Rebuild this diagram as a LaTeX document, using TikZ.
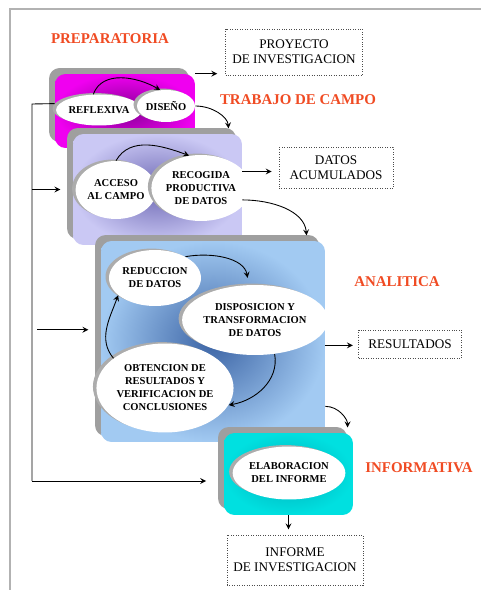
\documentclass[tikz,border=0pt]{standalone}
\usepackage{fontspec}
\setmainfont{Liberation Serif}
\usetikzlibrary{arrows,shapes.geometric,shadows}

\definecolor{rojofase}{RGB}{240,75,35}
\definecolor{magclaro}{RGB}{240,0,240}
\definecolor{magoscuro}{RGB}{135,0,150}
\definecolor{lavclaro}{RGB}{202,200,244}
\definecolor{lavoscuro}{RGB}{110,105,180}
\definecolor{celclaro}{RGB}{162,202,242}
\definecolor{celoscuro}{RGB}{60,100,165}
\definecolor{turclaro}{RGB}{0,224,224}
\definecolor{turoscuro}{RGB}{0,175,185}

\begin{document}
\begin{tikzpicture}[
  x=0.02cm, y=-0.02cm,
  >=stealth,
  fase/.style={rectangle, rounded corners=6pt,
    general shadow={fill=gray!75, shadow xshift=-3.4pt, shadow yshift=3.4pt}},
  etapa/.style={ellipse, inner sep=0pt, align=center, fill=white,
    font=\fontsize{6}{7.4}\selectfont\bfseries,
    general shadow={fill=gray!65, shadow xshift=-2pt, shadow yshift=0.8pt}},
  producto/.style={rectangle, draw=gray!60!black, densely dotted, inner sep=0pt,
    align=center, font=\fontsize{7.5}{8.5}\selectfont},
  titulo/.style={text=rojofase, font=\fontsize{8.5}{10}\selectfont\bfseries},
  flecha/.style={->, line width=0.5pt}
]
\useasboundingbox (0,0) rectangle (481,590);
\draw[gray!60, line width=1.1pt] (10,590) -- (10,9) -- (481,9);

% fases
\node[fase, inner color=magoscuro, outer color=magclaro, minimum width=2.8cm, minimum height=1.48cm] (fprep) at (125,111) {};
\node[fase, inner color=lavoscuro, outer color=lavclaro, minimum width=3.38cm, minimum height=2.22cm] (fcampo) at (157.5,189.5) {};
\node[fase, inner color=celoscuro, outer color=celclaro, minimum width=4.48cm, minimum height=4.02cm] (fana) at (213,341.5) {};
\node[fase, inner color=turoscuro, outer color=turclaro, minimum width=2.58cm, minimum height=1.64cm] (finf) at (288.5,474) {};

% etapas
\node[etapa, minimum width=1.32cm, minimum height=0.62cm] (reflexiva) at (99,110) {REFLEXIVA};
\node[etapa, minimum width=1.16cm, minimum height=0.64cm] (diseno) at (166,106) {DISEÑO};
\node[etapa, minimum width=1.36cm, minimum height=1.16cm] (acceso) at (116,190) {ACCESO\\AL CAMPO};
\node[etapa, minimum width=1.68cm, minimum height=1.32cm] (recogida) at (201,188) {RECOGIDA\\PRODUCTIVA\\DE DATOS};
\node[etapa, minimum width=1.56cm, minimum height=1.12cm] (reduccion) at (155,278) {REDUCCION\\DE DATOS};
\node[etapa, minimum width=2.52cm, minimum height=1.4cm] (disposicion) at (255,320) {DISPOSICION Y\\TRANSFORMACION\\DE DATOS};
\node[etapa, minimum width=2.3cm, minimum height=1.78cm] (obtencion) at (165,388) {OBTENCION DE\\RESULTADOS Y\\VERIFICACION DE\\CONCLUSIONES};
\node[etapa, minimum width=2.12cm, minimum height=1.06cm] (elaboracion) at (289,473) {ELABORACION\\DEL INFORME};

% productos
\node[producto, minimum width=2.74cm, minimum height=0.92cm] (proyecto) at (294,52) {PROYECTO\\DE INVESTIGACION};
\node[producto, minimum width=2.28cm, minimum height=0.82cm] (datos) at (336,168) {DATOS\\ACUMULADOS};
\node[producto, minimum width=2.06cm, minimum height=0.56cm] (resultados) at (410,344) {RESULTADOS};
\node[producto, minimum width=2.72cm, minimum height=1.0cm] (informe) at (295,560) {INFORME\\DE INVESTIGACION};

% titulos
\node[titulo] (tprep) at (110,39) {PREPARATORIA};
\node[titulo] (tcampo) at (298,100) {TRABAJO DE CAMPO};
\node[titulo] (tana) at (397,282) {ANALITICA};
\node[titulo] (tinf) at (419,468) {INFORMATIVA};

% flechas
\draw[flecha, shorten >=4.5pt] (fprep.north east) -- (fprep.north east -| proyecto.west);
\draw[flecha] (reflexiva.110) to[out=70, in=150] (diseno.110);
\draw[flecha, shorten >=3pt] (diseno.east) to[out=0, in=95] (fcampo.38);
\draw[flecha] (acceso.north) to[out=60, in=160] (recogida.110);
\draw[flecha, shorten >=4pt] (fcampo.12) -- (fcampo.12 -| datos.west);
\draw[flecha, shorten >=3pt] (fcampo.353) to[out=0, in=95] (fana.47);
\draw[flecha, shorten >=4pt] (reduccion.35) to[out=10, in=100] (disposicion.100);
\draw[flecha] (disposicion.300) to[out=-80, in=10] (obtencion.345);
\draw[flecha] (obtencion.150) to[out=130, in=-110] (reduccion.205);
\draw[flecha, shorten >=3pt] (fana.358) -- (fana.358 -| resultados.west);
\draw[flecha, shorten >=3pt] (fana.330) to[out=0, in=90] (finf.35);
\draw[flecha, shorten >=3pt] (finf.south) -- (finf.south |- informe.north);

% retorno
\coordinate (retorno) at (32,104);
\coordinate (retorno fin) at (32,481);
\draw[line width=0.5pt] (fprep.174) -- (retorno) -- (retorno fin);
\draw[flecha, shorten >=7pt] (retorno |- fcampo.west) -- (fcampo.west);
\draw[flecha, shorten <=3pt, shorten >=7pt] (retorno |- fana.174) -- (fana.174);
\draw[flecha, shorten >=10pt] (retorno fin) -- (retorno fin -| finf.west);
\end{tikzpicture}
\end{document}
